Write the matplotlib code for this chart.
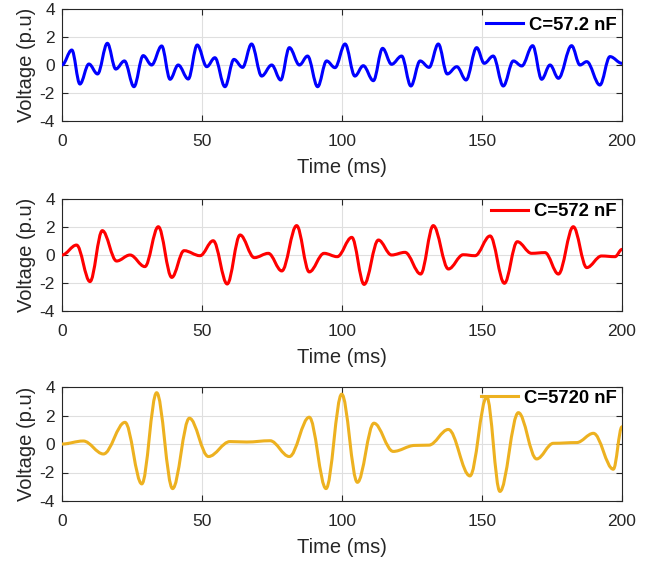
import matplotlib
matplotlib.use("Agg")
import matplotlib.pyplot as plt
from matplotlib.path import Path
from matplotlib.patches import PathPatch

plt.rcParams['font.family'] = ['Liberation Sans', 'DejaVu Sans']
plt.rcParams['axes.unicode_minus'] = False

# Extrema (time in ms, voltage in p.u.)
t1 = [0, 3.5, 6.4, 9.6, 12.7, 16.2, 19.2, 22.3, 25.7, 29.0, 32.0, 35.6, 38.6, 41.5, 45.1,
      48.3, 51.7, 54.6, 58.2, 61.4, 64.5, 67.7, 71.3, 74.9, 78.1, 81.2, 84.8, 87.7, 91.3,
      94.5, 97.5, 101.1, 104.6, 107.6, 111.2, 114.5, 117.7, 121.3, 124.6, 127.9, 131.1,
      134.4, 137.6, 141.0, 144.3, 148.1, 150.8, 154.0, 157.6, 161.2, 164.2, 168.1, 171.3,
      174.3, 177.3, 182.0, 185.0, 187.4, 192.1, 195.7, 200]
v1 = [0, 1.07, -1.36, 0.07, -0.64, 1.55, -0.29, 0.29, -1.55, 0.67, 0.0, 1.36, -1.02, 0.0, -1.0,
      1.43, -0.12, 0.52, -1.55, 0.4, -0.17, 1.5, -0.79, 0.0, -1.07, 1.24, 0.0, 0.64, -1.55,
      0.29, -0.19, 1.5, -0.79, -0.05, -1.12, 1.19, 0.05, 0.64, -1.5, 0.29, -0.17,
      1.5, -0.64, -0.12, -1.07, 1.24, 0.12, 0.64, -1.5, 0.29, -0.07, 1.38, -1.02,
      0.0, -0.95, 1.38, 0.0, 0.24, -1.43, 0.6, 0.12]

t2 = [0, 5.2, 10.0, 14.4, 19.5, 24.3, 29.6, 34.4, 39.2, 43.6, 49.3, 54.0, 59.0, 63.6, 68.7,
      73.7, 78.5, 83.8, 88.3, 93.6, 98.3, 103.5, 107.9, 113.0, 117.7, 122.5, 128.1, 132.6,
      138.0, 143.3, 147.5, 152.9, 158.0, 162.6, 167.7, 172.5, 177.3, 182.6, 187.4, 192.7,
      197.5, 200]
v2 = [0, 0.71, -1.9, 1.74, -0.43, 0.0, -0.83, 2.02, -1.6, 0.31, -0.05, 1.02, -2.07, 1.43, -0.19,
      0.12, -1.14, 2.1, -1.21, 0.12, -0.12, 1.26, -2.1, 1.07, 0.0, 0.19, -1.36, 2.1,
      -1.0, 0.02, -0.05, 1.36, -2.02, 0.95, 0.12, 0.17, -1.36, 2.02, -0.9, -0.07,
      -0.12, 0.4]

t3 = [0, 7.6, 14.8, 22.5, 28.5, 33.8, 39.5, 45.5, 52.3, 60.0, 66.0, 74.3, 81.2, 88.3, 94.3,
      99.9, 105.5, 111.4, 118.3, 126.0, 131.0, 138.0, 145.7, 151.7, 156.4, 163.0, 169.5,
      175.5, 183.8, 189.8, 196.9, 200]
v3 = [0, 0.21, -0.7, 1.52, -2.8, 3.6, -3.13, 1.81, -0.88, 0.17, 0.14, 0.23, -0.88, 1.88, -3.13,
      3.5, -2.69, 1.46, -0.52, -0.1, -0.08, 1.02, -2.24, 3.3, -3.33, 2.2, -1.05,
      0.05, 0.1, 0.75, -1.77, 1.21]

labels = ['C=57.2 nF', 'C=572 nF', 'C=5720 nF']
colors = ['#0000FF', '#FF0000', '#EDB120']
xticks = [0, 50, 100, 150, 200]
yticks = [-4, -2, 0, 2, 4]

series = [(t1, v1), (t2, v2), (t3, v3)]

fig = plt.figure(figsize=(6.55, 5.63), dpi=100)
rects = [
    (62 / 655, 1 - 121 / 563, 560 / 655, 112 / 563),
    (62 / 655, 1 - 311 / 563, 560 / 655, 112 / 563),
    (62 / 655, 1 - 501 / 563, 560 / 655, 114 / 563),
]
heights_px = [112, 112, 114]
leg_y = [0.857, 0.887, 0.90]


def smooth_path(ts, vs):
    verts = [(ts[0], vs[0])]
    codes = [Path.MOVETO]
    k = 0.36
    for i in range(len(ts) - 1):
        a, b = ts[i], ts[i + 1]
        d = b - a
        verts += [(a + k * d, vs[i]), (b - k * d, vs[i + 1]), (b, vs[i + 1])]
        codes += [Path.CURVE4] * 3
    return Path(verts, codes)


for i, (ts, vs) in enumerate(series):
    ax = fig.add_axes(rects[i])
    ax.set_xlim(0, 200)
    ax.set_ylim(-4, 4)
    patch = PathPatch(smooth_path(ts, vs), facecolor='none', edgecolor=colors[i],
                      lw=2.2, joinstyle='round', capstyle='round', zorder=3)
    ax.add_patch(patch)
    ax.plot([], [], color=colors[i], lw=2.2, label=labels[i])
    ax.set_xticks(xticks)
    ax.set_yticks(yticks)
    ax.grid(True, color='#dfdfdf', lw=0.8)
    ax.set_axisbelow(True)
    ax.tick_params(direction='in', top=True, right=True, length=4, width=0.8,
                   labelsize=12.5, colors='#262626')
    ax.tick_params(axis='x', pad=9)
    ax.tick_params(axis='y', pad=5)
    for s in ax.spines.values():
        s.set_color('#262626')
        s.set_linewidth(0.8)
    ax.set_xlabel('Time (ms)', fontsize=14.5, color='#262626')
    ax.set_ylabel('Voltage (p.u)', fontsize=14.5, color='#262626')
    ax.xaxis.set_label_coords(0.5, -37 / heights_px[i])
    ax.yaxis.set_label_coords(-26 / 560, 0.5)
    leg = ax.legend(loc='center right', bbox_to_anchor=(1.0, leg_y[i]), frameon=False,
                    handlelength=2.0, handletextpad=0.3, borderpad=0.1,
                    borderaxespad=0.2, prop={'weight': 'bold', 'size': 13.3})

fig.savefig('out.png', dpi=100)
